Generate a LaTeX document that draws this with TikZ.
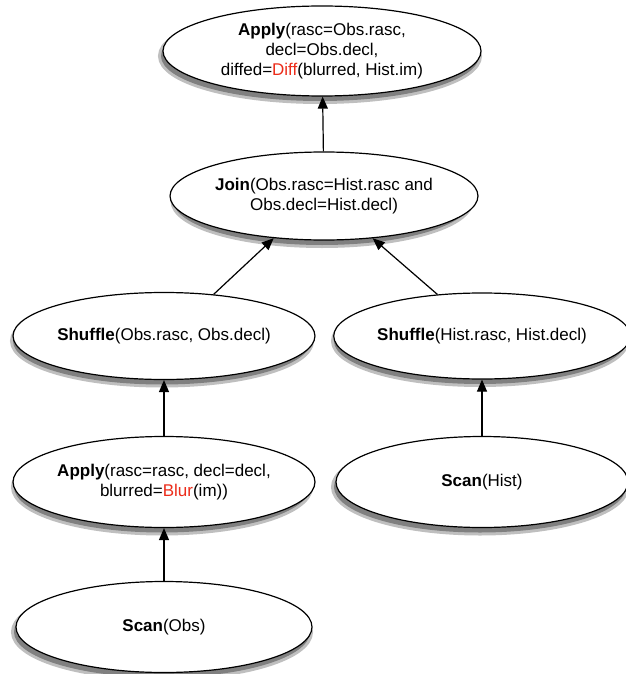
\documentclass[tikz,border=0pt]{standalone}
\usepackage{fontspec}
\setmainfont{Liberation Sans}
\usetikzlibrary{arrows.meta,shapes.geometric}
\definecolor{opred}{RGB}{236,44,26}
\newcommand{\op}[1]{\textbf{#1}}
\newcommand{\fn}[1]{\textcolor{opred}{#1}}
\tikzset{
  opnode/.style={ellipse, draw=black, line width=1.2pt, fill=white,
    inner sep=0pt, align=center,
    font=\fontsize{17}{20}\selectfont},
  flow/.style={line width=1.2pt, -{Triangle[length=12pt,width=10pt]}}
}
\begin{document}
\begin{tikzpicture}[x=1pt, y=-1pt]
  \useasboundingbox (0,0) rectangle (625,674);
  % drop shadows: a light halo around a gray core, offset down and left
  \draw[lightgray, line width=6pt] (320,56) ellipse [x radius=159pt, y radius=45pt];
  \fill[gray] (320,56) ellipse [x radius=159pt, y radius=45pt];
  \draw[lightgray, line width=6pt] (322,201) ellipse [x radius=148.5pt, y radius=44pt];
  \fill[gray] (322,201) ellipse [x radius=148.5pt, y radius=44pt];
  \draw[lightgray, line width=6pt] (162,341) ellipse [x radius=149pt, y radius=43.5pt];
  \fill[gray] (162,341) ellipse [x radius=149pt, y radius=43.5pt];
  \draw[lightgray, line width=6pt] (480,341) ellipse [x radius=146pt, y radius=43pt];
  \fill[gray] (480,341) ellipse [x radius=146pt, y radius=43pt];
  \draw[lightgray, line width=6pt] (162,487) ellipse [x radius=148pt, y radius=45.5pt];
  \fill[gray] (162,487) ellipse [x radius=148pt, y radius=45.5pt];
  \draw[lightgray, line width=6pt] (480,487) ellipse [x radius=146pt, y radius=45.5pt];
  \fill[gray] (480,487) ellipse [x radius=146pt, y radius=45.5pt];
  \draw[lightgray, line width=6pt] (162,632) ellipse [x radius=148pt, y radius=45.5pt];
  \fill[gray] (162,632) ellipse [x radius=148pt, y radius=45.5pt];
  % query plan operators
  \node[opnode, minimum width=318pt, minimum height=90pt] (applyTop) at (322,51)
    {\op{Apply}(rasc=Obs.rasc,\\ decl=Obs.decl,\\ diffed=\fn{Diff}(blurred, Hist.im)};
  \node[opnode, minimum width=297pt, minimum height=88pt] (join) at (324,196)
    {\op{Join}(Obs.rasc=Hist.rasc and\\ Obs.decl=Hist.decl)};
  \node[opnode, minimum width=298pt, minimum height=87pt] (shufObs) at (164,336)
    {\op{Shuffle}(Obs.rasc, Obs.decl)};
  \node[opnode, minimum width=292pt, minimum height=86pt] (shufHist) at (482,336)
    {\op{Shuffle}(Hist.rasc, Hist.decl)};
  \node[opnode, minimum width=296pt, minimum height=91pt] (applyBlur) at (164,482)
    {\op{Apply}(rasc=rasc, decl=decl,\\ blurred=\fn{Blur}(im))};
  \node[opnode, minimum width=292pt, minimum height=91pt] (scanHist) at (482,482)
    {\op{Scan}(Hist)};
  \node[opnode, minimum width=296pt, minimum height=91pt] (scanObs) at (164,627)
    {\op{Scan}(Obs)};
  % data flow
  \draw[flow] (join) -- (applyTop);
  \draw[flow] (shufObs.40.5) -- (join.220.8);
  \draw[flow] (shufHist.137.7) -- (join.319.2);
  \draw[flow] (applyBlur) -- (shufObs);
  \draw[flow] (scanHist) -- (shufHist);
  \draw[flow] (scanObs) -- (applyBlur);
\end{tikzpicture}
\end{document}
